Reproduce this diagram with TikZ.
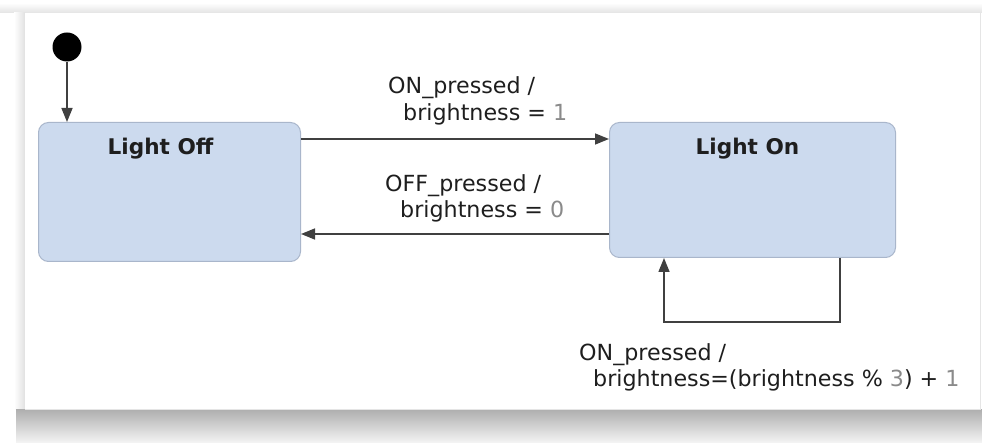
\documentclass[tikz,border=0pt]{standalone}
\usepackage{fontspec}
\setmainfont{DejaVu Sans}
\usetikzlibrary{arrows.meta,positioning,calc}

\definecolor{statefill}{HTML}{CCDAEE}
\definecolor{statedraw}{HTML}{A9B6CB}
\definecolor{wire}{HTML}{404040}
\definecolor{numgray}{HTML}{8A8A8A}
\definecolor{ink}{HTML}{1E1E1E}

\tikzset{
  state/.style={draw=statedraw, line width=1pt, fill=statefill,
    rounded corners=10pt, minimum width=262pt, minimum height=137pt,
    inner sep=0pt, anchor=north west},
  statename/.style={font=\fontsize{21.6}{24}\selectfont\bfseries, text=ink,
    inner sep=0pt, anchor=base},
  trans/.style={draw=wire, line width=1.5pt,
    -{Triangle[length=14pt,width=11pt]}},
  guard/.style={font=\fontsize{22.2}{26.5}\selectfont, text=ink, align=left,
    inner sep=0pt, anchor=north west},
  initdot/.style={circle, fill=black, minimum size=29pt, inner sep=0pt}
}
\newcommand{\num}[1]{{\color{numgray}#1}}

\begin{document}
\begin{tikzpicture}[x=1pt, y=-1pt]
  \useasboundingbox (0,0) rectangle (982,443);
  % page backdrop and the card's shadow
  \fill[white] (0,0) rectangle (982,443);
  \shade[top color=white, bottom color=black!11] (0,3) rectangle (982,13);
  \shade[left color=white, right color=black!12] (14,13) rectangle (25,409);
  \shade[top color=black!32, bottom color=black!4] (16,409) rectangle (982,443);
  \fill[white] (25,13) rectangle (980,409);
  \draw[black!10, line width=0.8pt] (25,409) -- (980,409) -- (980,13);

  % states
  \node[state, minimum height=139pt] (off) at (38,122) {};
  \node[state, minimum width=286pt, minimum height=135pt] (on) at (609,122) {};
  \node[statename] (offname) at ($(off.north)+(-9,33)$) {Light Off};
  \node[statename] (onname) at ($(on.north)+(-5,33)$) {Light On};

  % initial pseudo-state
  \node[initdot] (init) at (67,47) {};
  \draw[trans] (init.south) -- (init.south |- off.north);

  % transitions between the states
  \coordinate (t1) at (0,139);
  \coordinate (t2) at (0,234);
  \draw[trans] (off.east |- t1) -- (on.west |- t1);
  \draw[trans] (on.west |- t2) -- (off.east |- t2);

  % self transition on Light On
  \coordinate (loopR) at (840,322);
  \coordinate (loopL) at (664,322);
  \draw[trans] (on.south -| loopR) -- (loopR) -- (loopL) -- (on.south -| loopL);

  % transition labels
  \node[guard] (g1) at (388,76.5) {ON\_pressed /\\\hspace*{15pt}brightness = \num{1}};
  \node[guard] (g2) at (385,174) {OFF\_pressed /\\\hspace*{15pt}brightness = \num{0}};
  \node[guard] (g3) at (579,343) {ON\_pressed /\\\hspace*{14pt}brightness=(brightness \% \num{3}) + \num{1}};
\end{tikzpicture}
\end{document}
